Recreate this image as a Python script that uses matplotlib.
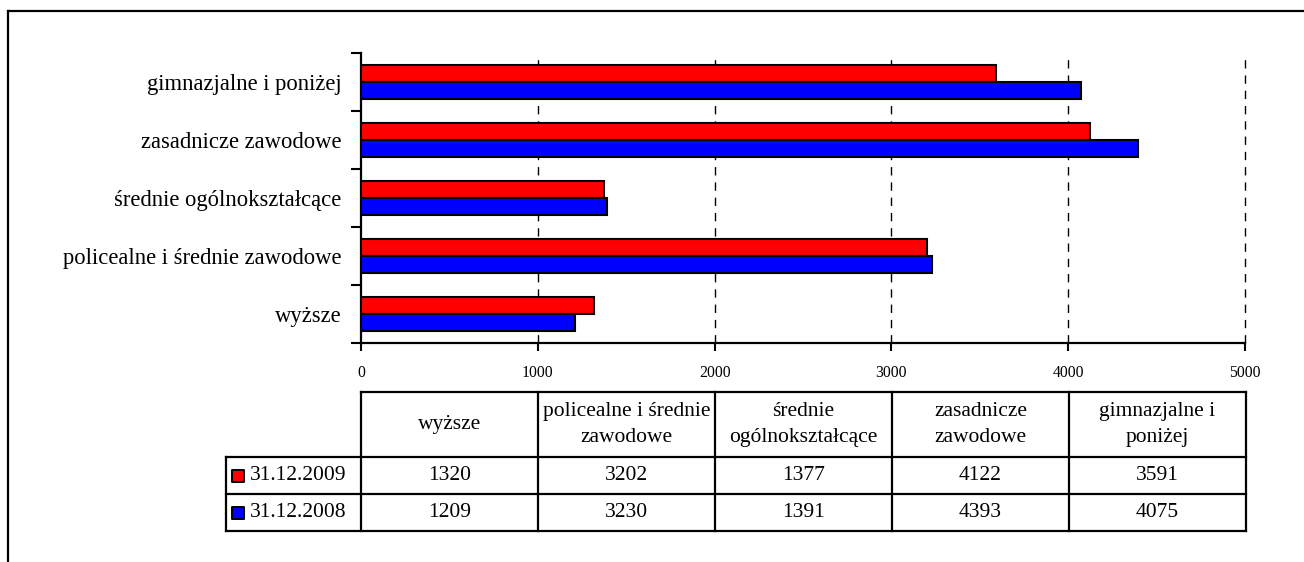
import matplotlib
matplotlib.use("Agg")
import matplotlib.pyplot as plt
from matplotlib.lines import Line2D
import numpy as np

categories = ["wyższe", "policealne i średnie zawodowe", "średnie ogólnokształcące",
              "zasadnicze zawodowe", "gimnazjalne i poniżej"]
table_headers = ["wyższe", "policealne i średnie\nzawodowe", "średnie\nogólnokształcące",
                 "zasadnicze\nzawodowe", "gimnazjalne i\nponiżej"]
series_names = ["31.12.2009", "31.12.2008"]
values_2009 = [1320, 3202, 1377, 4122, 3591]
values_2008 = [1209, 3230, 1391, 4393, 4075]
series_values = [values_2009, values_2008]
series_colors = ["#ff0000", "#0000ff"]
xticks = [0, 1000, 2000, 3000, 4000, 5000]

plt.rcParams['font.family'] = ['Liberation Serif', 'DejaVu Serif']

W, H = 1304, 562
fig = plt.figure(figsize=(W / 100, H / 100), dpi=100)

def fx(px):
    return px / W

def fy(py):
    return 1 - py / H

# Outer frame (left and top only visible)
fig.add_artist(Line2D([fx(8), fx(8)], [fy(11), 0], color="black", lw=1.6))
fig.add_artist(Line2D([fx(8), 1.0], [fy(11), fy(11)], color="black", lw=1.6))

# Bar axes
ax = fig.add_axes([fx(361), fy(343), fx(1245) - fx(361), fy(53) - fy(343)])
y = np.arange(len(categories))
h = 0.285
ax.barh(y + 0.145, values_2009, height=h, color=series_colors[0], edgecolor="black", linewidth=1.5, zorder=3)
ax.barh(y - 0.145, values_2008, height=h, color=series_colors[1], edgecolor="black", linewidth=1.5, zorder=3)
ax.set_xlim(0, 5000)
ax.set_ylim(-0.5, len(categories) - 0.5)
ax.set_xticks(xticks)
ax.set_xticklabels([str(t) for t in xticks], fontsize=11.3)
ax.tick_params(axis="x", direction="out", length=6, width=1.5, pad=10)
ax.set_yticks(np.arange(-0.5, len(categories), 1.0))
ax.set_yticklabels([])
ax.set_yticks(y, minor=True)
ax.set_yticklabels(categories, minor=True, fontsize=16.3)
ax.tick_params(axis="y", which="major", direction="out", length=7, width=1.5)
ax.tick_params(axis="y", which="minor", length=0, pad=14)
for s in ["top", "right"]:
    ax.spines[s].set_visible(False)
ax.spines["left"].set_linewidth(1.6)
ax.spines["bottom"].set_linewidth(1.6)
ax.xaxis.grid(True, linestyle=(0, (6, 5)), color="black", linewidth=1.0, zorder=0)
ax.set_axisbelow(True)
gl = ax.get_xgridlines()
gl[0].set_visible(False)
for g in gl:
    g.set_clip_on(False)

# Table axes
tx0, tx1 = 226, 1246
ty0, ty1 = 392, 531
tax = fig.add_axes([fx(tx0), fy(ty1), fx(tx1) - fx(tx0), fy(ty0) - fy(ty1)])
label_w = (361 - 226) / (1245 - 361) * 5000
tax.set_xlim(-label_w, 5000)
row_h = [65, 37, 37]
tot = sum(row_h)
tax.set_ylim(tot, 0)
tax.axis("off")
lw = 1.6
ncol = len(categories)
yb = [0, row_h[0], row_h[0] + row_h[1], tot]
tax.plot([0, 5000], [0, 0], color="black", lw=lw, clip_on=False)
for yy in yb[1:]:
    tax.plot([-label_w, 5000], [yy, yy], color="black", lw=lw, clip_on=False)
tax.plot([-label_w, -label_w], [row_h[0], tot], color="black", lw=lw, clip_on=False)
for i in range(ncol + 1):
    tax.plot([i * 1000, i * 1000], [0, tot], color="black", lw=lw, clip_on=False)
fs = 15.5
for i, t in enumerate(table_headers):
    tax.text(i * 1000 + 500, row_h[0] / 2, t, ha="center", va="center", fontsize=fs, linespacing=1.45)
for r, (name, vals, col) in enumerate(zip(series_names, series_values, series_colors)):
    yc = yb[r + 1] + row_h[r + 1] / 2
    for i, v in enumerate(vals):
        tax.text(i * 1000 + 500, yc, str(v), ha="center", va="center", fontsize=fs)
    tax.scatter([-label_w + 65], [yc], marker="s", s=80, color=col, edgecolors="black", linewidths=1.4, clip_on=False, zorder=4)
    tax.text(-label_w + 135, yc, name, ha="left", va="center", fontsize=fs)

fig.savefig("out.png", dpi=100)
